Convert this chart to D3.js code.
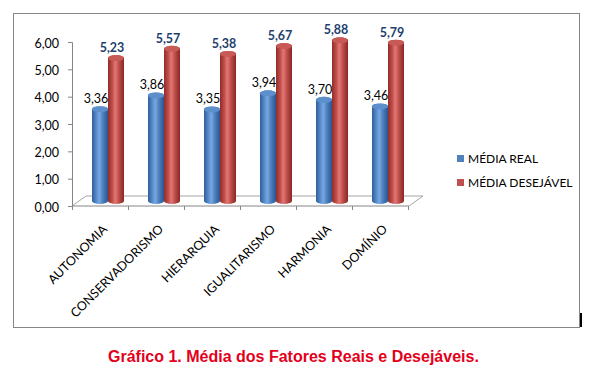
<!DOCTYPE html>
<meta charset="utf-8">
<head>
    <title>Gráfico 1</title>
    <script src="https://cdn.jsdelivr.net/npm/d3@7"></script>
    <style>
        body { margin: 0; background: #fff; }
        .lbl { font-family: Lato, "Open Sans", sans-serif; }
    </style>
</head>
<body>
<div id="chart"></div>
<script>
    // data
    var categories = ["AUTONOMIA", "CONSERVADORISMO", "HIERARQUIA", "IGUALITARISMO", "HARMONIA", "DOMÍNIO"];
    var seriesNames = ["MÉDIA REAL", "MÉDIA DESEJÁVEL"];
    var mediaReal = [3.36, 3.86, 3.35, 3.94, 3.70, 3.46];
    var mediaDesejavel = [5.23, 5.57, 5.38, 5.67, 5.88, 5.79];
    var yTicks = [0, 1, 2, 3, 4, 5, 6];

    var width = 600, height = 372;
    var depthX = 14, depthY = -10; // floor depth
    var fmt = function (v) { return d3.format(".2f")(v).replace(".", ","); };

    var svg = d3.select("#chart").append("svg")
        .attr("width", width)
        .attr("height", height);

    // gradients for the cylinders
    var defs = svg.append("defs");
    var palettes = [
        { id: "gBlue", stops: ["#2f5f98", "#5b8fd0", "#7aa8e0", "#4a7dbd", "#2a5690"] },
        { id: "gRed", stops: ["#8e2c29", "#c9524e", "#e07a76", "#bd4a47", "#862826"] }
    ];
    palettes.forEach(function (p) {
        var g = defs.append("linearGradient").attr("id", p.id)
            .attr("x1", "0%").attr("x2", "100%").attr("y1", "0%").attr("y2", "0%");
        [0, 0.3, 0.45, 0.7, 1].forEach(function (o, i) {
            g.append("stop").attr("offset", o).attr("stop-color", p.stops[i]);
        });
    });
    var topColors = ["#5d8fcc", "#c85a56"];
    var legendColors = ["#4f81bd", "#c0504d"];

    // outer border
    svg.append("rect")
        .attr("x", 13.5).attr("y", 13.5)
        .attr("width", 566).attr("height", 314)
        .attr("fill", "none")
        .attr("stroke", "#868686");

    svg.append("rect")
        .attr("x", 580).attr("y", 313)
        .attr("width", 2).attr("height", 14)
        .attr("fill", "#000");

    // scales
    var x = d3.scaleBand().domain(categories).range([72, 408]);
    var xs = d3.scaleBand().domain(seriesNames).range([13, 45]);
    var y = d3.scaleLinear().domain([0, 6]).range([206, 42]);

    // floor
    var y0 = y(0);
    svg.append("path")
        .attr("d", "M72," + y0 + " L" + (72 + depthX) + "," + (y0 + depthY) +
            " L" + (409 + depthX) + "," + (y0 + depthY) + " L409," + y0)
        .attr("fill", "none")
        .attr("stroke", "#a6a6a6");

    // y axis
    var yAxis = svg.append("g")
        .attr("transform", "translate(72,0)")
        .call(d3.axisLeft(y).tickValues(yTicks).tickFormat(fmt).tickSize(4).tickPadding(9));
    yAxis.select(".domain").attr("stroke", "#868686");
    yAxis.selectAll(".tick line").attr("stroke", "#868686");
    yAxis.selectAll("text")
        .attr("class", "lbl")
        .attr("font-size", "12.5px")
        .attr("dy", "0.4em")
        .attr("fill", "#000");

    // x axis
    var xAxis = svg.append("g")
        .attr("transform", "translate(0," + y0 + ")");
    xAxis.append("line")
        .attr("x1", 72).attr("x2", 409)
        .attr("stroke", "#868686");
    xAxis.selectAll(".tk")
        .data(d3.range(categories.length + 1))
        .enter().append("line")
        .attr("x1", function (i) { return 72 + i * x.bandwidth() + 0.5; })
        .attr("x2", function (i) { return 72 + i * x.bandwidth() + 0.5; })
        .attr("y1", 0).attr("y2", 4)
        .attr("stroke", "#868686");
    xAxis.selectAll(".cat")
        .data(categories)
        .enter().append("text")
        .attr("class", "lbl")
        .attr("text-anchor", "end")
        .attr("font-size", "12.5px")
        .attr("transform", function (d) {
            return "translate(" + (x(d) + x.bandwidth() / 2 + 8) + ",24) rotate(-45)";
        })
        .text(function (d) { return d; });

    // cylinders
    var rx = 8, ry = 3;
    var bx = depthX / 2, by = depthY / 2;
    var seriesValues = [mediaReal, mediaDesejavel];
    var grads = ["url(#gBlue)", "url(#gRed)"];

    seriesValues.forEach(function (vals, s) {
        var g = svg.append("g");
        var bars = g.selectAll("g")
            .data(vals.map(function (v, i) { return { cat: categories[i], v: v }; }))
            .enter().append("g");

        bars.append("path")
            .attr("fill", grads[s])
            .attr("d", function (d) {
                var x0 = x(d.cat) + xs(seriesNames[s]) + bx;
                var x1 = x0 + 2 * rx;
                var yt = y(d.v) + by, yb = y0 + by;
                return "M" + x0 + "," + yt + " L" + x0 + "," + yb +
                    " A" + rx + "," + ry + " 0 0 0 " + x1 + "," + yb +
                    " L" + x1 + "," + yt +
                    " A" + rx + "," + ry + " 0 0 0 " + x0 + "," + yt + "Z";
            });

        bars.append("ellipse")
            .attr("cx", function (d) { return x(d.cat) + xs(seriesNames[s]) + bx + rx; })
            .attr("cy", function (d) { return y(d.v) + by; })
            .attr("rx", rx).attr("ry", ry)
            .attr("fill", topColors[s]);

        // value labels
        bars.append("text")
            .attr("class", "lbl")
            .attr("x", function (d) { return x(d.cat) + xs(seriesNames[s]) + bx + rx - 4; })
            .attr("y", function (d) { return y(d.v) + by - 6; })
            .attr("text-anchor", "middle")
            .attr("font-size", "12.5px")
            .attr("font-weight", s === 0 ? "normal" : "bold")
            .attr("fill", s === 0 ? "#000" : "#1f3f6e")
            .text(function (d) { return fmt(d.v); });
    });

    // legend
    var legend = svg.append("g").attr("transform", "translate(457,0)");
    seriesNames.forEach(function (name, i) {
        var ly = 159 + i * 24;
        legend.append("rect")
            .attr("x", 0).attr("y", ly - 4)
            .attr("width", 7).attr("height", 7)
            .attr("fill", legendColors[i]);
        legend.append("text")
            .attr("class", "lbl")
            .attr("x", 11).attr("y", ly + 4)
            .attr("font-size", "12px")
            .attr("fill", "#000")
            .text(name);
    });

    // caption
    svg.append("text")
        .attr("x", 108).attr("y", 362)
        .style("font-family", "'Liberation Sans', Arial, sans-serif")
        .style("font-size", "16px")
        .style("font-weight", "bold")
        .attr("fill", "#e3001b")
        .text("Gráfico 1. Média dos Fatores Reais e Desejáveis.");
</script>
</body>
</html>
